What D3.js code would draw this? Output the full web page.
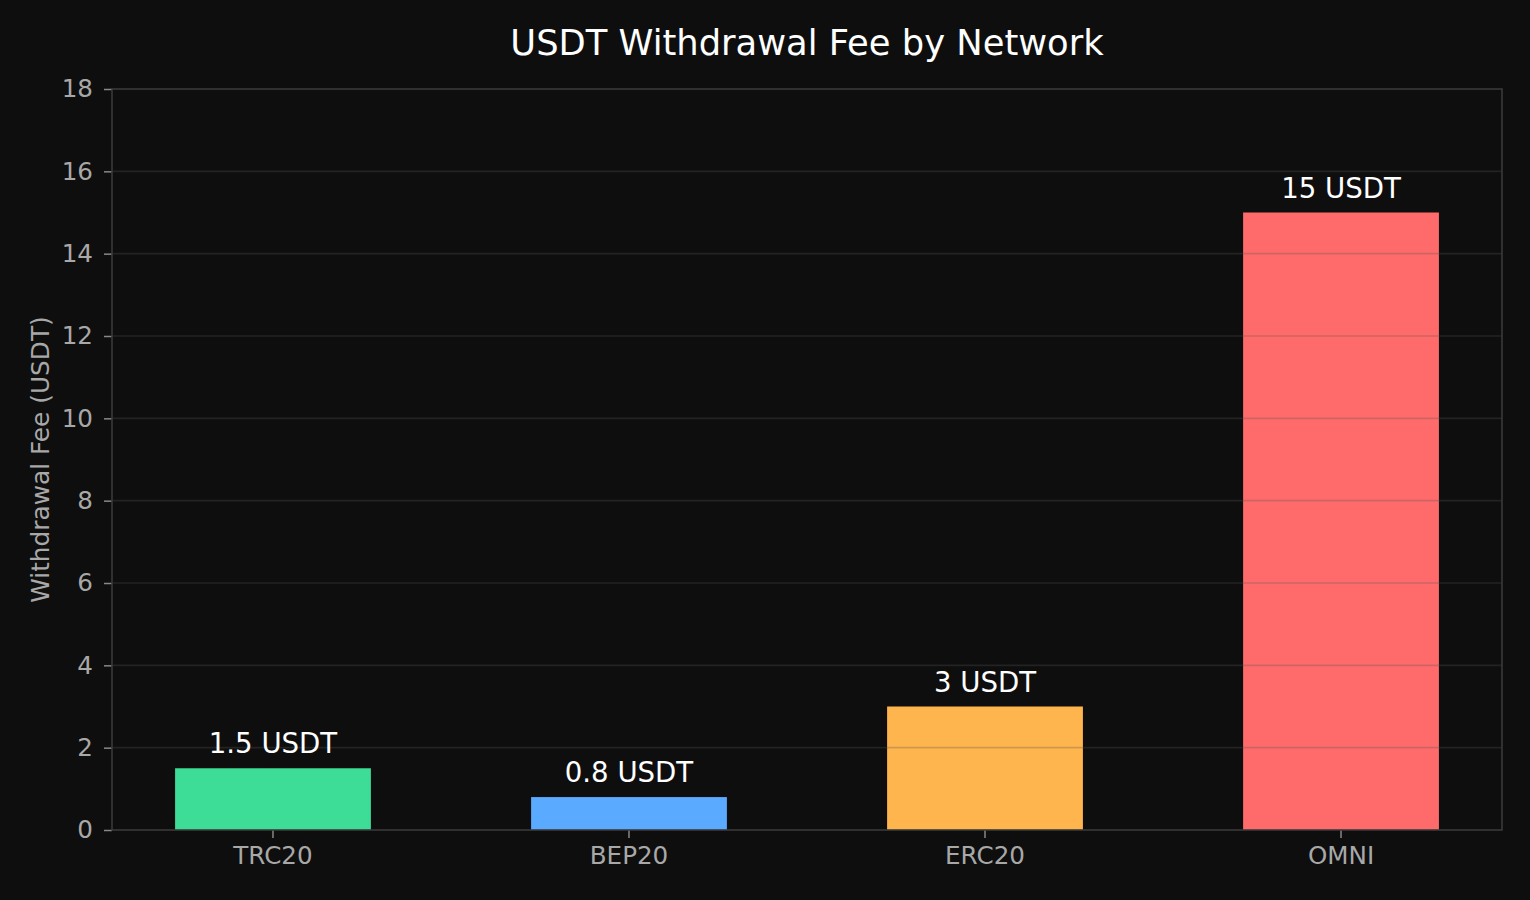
<!DOCTYPE html>
<html>
<head>
<meta charset="utf-8">
<script src="https://cdn.jsdelivr.net/npm/d3@7"></script>
<style>
    html, body { margin: 0; padding: 0; background: #0e0e0e; }
    svg { display: block; font-family: "DejaVu Sans", sans-serif; }
</style>
</head>
<body>
<div id="chart"></div>
<script>
// data
const networks = ['TRC20', 'BEP20', 'ERC20', 'OMNI'];
const fees = [1.5, 0.8, 3, 15];
const barColors = ['#3ddc97', '#5aaaff', '#ffb54d', '#ff6b6b'];
const yTicks = [0, 2, 4, 6, 8, 10, 12, 14, 16, 18];

// set dimensions
const w = 1530;
const h = 900;
const plotLeft = 112;
const plotRight = 1502;
const plotTop = 89;
const plotBottom = 830;

const svg = d3.select('#chart')
    .append('svg')
    .attr('width', w)
    .attr('height', h)
    .style('background', '#0e0e0e');

// x scale (bar width 0.55 of the step, matplotlib-like margins)
const x_scale = d3.scaleBand()
    .domain(networks)
    .range([plotLeft, plotRight])
    .paddingInner(0.45)
    .paddingOuter(0.1772);

// y scale
const y_scale = d3.scaleLinear()
    .domain([0, 18])
    .range([plotBottom, plotTop]);

// bars
svg.selectAll('rect.bar')
    .data(networks)
    .enter()
    .append('rect')
    .attr('class', 'bar')
    .attr('x', d => x_scale(d))
    .attr('y', (d, i) => y_scale(fees[i]))
    .attr('width', x_scale.bandwidth())
    .attr('height', (d, i) => plotBottom - y_scale(fees[i]))
    .attr('fill', (d, i) => barColors[i]);

// grid (drawn on top of bars, faint)
svg.append('g')
    .selectAll('line')
    .data(yTicks.slice(1, -1))
    .enter()
    .append('line')
    .attr('x1', plotLeft)
    .attr('x2', plotRight)
    .attr('y1', d => y_scale(d))
    .attr('y2', d => y_scale(d))
    .attr('stroke', '#555')
    .attr('stroke-opacity', 0.3)
    .attr('stroke-width', 1.6);

// bar labels
svg.selectAll('text.val')
    .data(networks)
    .enter()
    .append('text')
    .attr('class', 'val')
    .attr('x', d => x_scale(d) + x_scale.bandwidth() / 2)
    .attr('y', (d, i) => y_scale(fees[i]) - 15)
    .attr('text-anchor', 'middle')
    .attr('fill', '#ffffff')
    .style('font-size', '27.6px')
    .text((d, i) => `${fees[i]} USDT`);

// axes
const x_axis = d3.axisBottom(x_scale).tickSize(8).tickPadding(9);
const y_axis = d3.axisLeft(y_scale).tickValues(yTicks).tickSize(8).tickPadding(11);

const gx = svg.append('g')
    .attr('id', 'x-axis')
    .attr('transform', `translate(0, ${plotBottom})`)
    .call(x_axis);

const gy = svg.append('g')
    .attr('id', 'y-axis')
    .attr('transform', `translate(${plotLeft}, 0)`)
    .call(y_axis);

[gx, gy].forEach(g => {
    g.select('.domain').remove();
    g.selectAll('.tick line').attr('stroke', '#888').attr('stroke-width', 1.5);
    g.selectAll('.tick text')
        .attr('fill', '#a8a8a8')
        .style('font-size', '24.6px')
        .style('font-family', '"DejaVu Sans", sans-serif');
});

// frame
svg.append('rect')
    .attr('x', plotLeft)
    .attr('y', plotTop)
    .attr('width', plotRight - plotLeft)
    .attr('height', plotBottom - plotTop)
    .attr('fill', 'none')
    .attr('stroke', '#3a3a3a')
    .attr('stroke-width', 1.6);

// title
svg.append('text')
    .attr('x', (plotLeft + plotRight) / 2)
    .attr('y', 55)
    .attr('text-anchor', 'middle')
    .attr('fill', '#ffffff')
    .style('font-size', '35.3px')
    .text('USDT Withdrawal Fee by Network');

// y label
svg.append('text')
    .attr('transform', `translate(49, ${(plotTop + plotBottom) / 2}) rotate(-90)`)
    .attr('text-anchor', 'middle')
    .attr('fill', '#a8a8a8')
    .style('font-size', '24.8px')
    .text('Withdrawal Fee (USDT)');
</script>
</body>
</html>
